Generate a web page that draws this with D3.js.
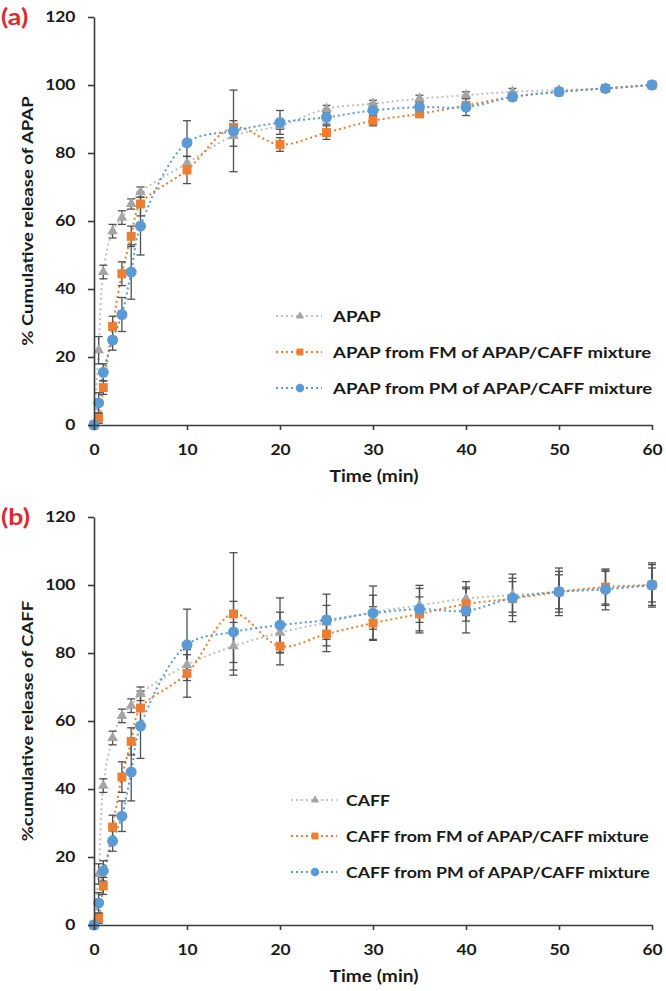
<!DOCTYPE html>
<html><head><meta charset="utf-8">
<script src="https://cdn.jsdelivr.net/npm/d3@7"></script>
<style>body{margin:0;background:#fff;}svg{display:block;}text{font-family:Lato,"Open Sans",sans-serif;font-weight:700;fill:#1a1a1a;}</style>
</head><body><svg id="c" width="666" height="991"></svg>
<script>
const times = [0,0.5,1,2,3,4,5,10,15,20,25,30,35,40,45,50,55,60];
const xTicks = [0,10,20,30,40,50,60];
const yTicks = [0,20,40,60,80,100,120];

const apapPure = [0,22,45,57,61,65,68.5,77,85,88,93,94.5,96,97,98,98.5,99,100];
const apapPureErr = [0,4,2,2,2,1.5,1.5,2,3,1,1,1,1,1,1,0.5,0.5,0.5];
const apapFM = [0,2,11,29,44.5,55.5,65,75,87.5,82.5,86,89.5,91.5,94,96.5,98,99,100];
const apapFMErr = [0,1.5,2,3,3.5,3,3.5,4,2,2,2,1.5,1,1,1,0.5,0.5,0.5];
const apapPM = [0,6.5,15.5,25,32.5,45,58.5,83,86.5,89,90.5,92.5,93.5,93.5,96.5,98,99,100];
const apapPMErr = [0,3,2.5,3,5,8,8.5,6.5,12,3.5,2,2,1.5,2.5,1,0.5,0.5,0.5];

const caffPure = [0,15,41,55,61.5,64.5,68,76.5,82,86,89,92,94,96,97,98,99,100];
const caffPureErr = [0,3,2,2,2,2,2,3,7,6,5,5,5,5,5,5,5,5];
const caffFM = [0,2,11.5,28.8,43.5,54,63.8,74,91.5,82,85.6,88.8,91.5,94.4,96,98,99.4,100];
const caffFMErr = [0,1.5,2.5,3.5,4.5,4,5,7,18,5.5,5.2,4.8,5,5,5,6,5,6];
const caffPM = [0,6.5,15.9,24.7,32,45,58.5,82.4,86.2,88.2,89.7,91.7,92.9,92.4,96.2,98,98.7,100];
const caffPMErr = [0,3,3,3,4.5,8.5,9.5,10.5,9,8,7.6,8,7,6.5,7,7,6,6.5];

const legendA = ["APAP","APAP from FM of APAP/CAFF mixture","APAP from PM of APAP/CAFF mixture"];
const legendB = ["CAFF","CAFF from FM of APAP/CAFF mixture","CAFF from PM of APAP/CAFF mixture"];

const colors = {gray:"#a5a5a5", orange:"#ed7d31", blue:"#5b9bd5"};
const SX = 1.16;
const svg = d3.select("#c");

function label(g, x, y, txt, size, anchor, rot){
  return g.append("text")
    .attr("transform", `translate(${x},${y})${rot?` rotate(${rot})`:""} scale(${SX},1)`)
    .attr("text-anchor", anchor||"start").attr("font-size", size).text(txt);
}

function panel(cfg){
  const g = svg.append("g");
  const x = d3.scaleLinear().domain([0,60]).range([94,652]);
  const y = d3.scaleLinear().domain([0,120]).range([cfg.y0, cfg.y0-408]);
  const series = [
    {v:cfg.s[0], e:cfg.e[0], c:colors.gray, shape:d3.symbolTriangle, size:50, lc:"#c0c0c0"},
    {v:cfg.s[1], e:cfg.e[1], c:colors.orange, shape:d3.symbolSquare, size:80, lc:colors.orange},
    {v:cfg.s[2], e:cfg.e[2], c:colors.blue, shape:d3.symbolCircle, size:95, lc:colors.blue}
  ];
  const line = d3.line().x((d,i)=>x(times[i])).y(d=>y(d)).curve(d3.curveCatmullRom.alpha(0.5));
  series.forEach(s=>{
    g.append("path").attr("d", line(s.v)).attr("fill","none").attr("stroke",s.lc)
      .attr("stroke-width",2).attr("stroke-dasharray","2,3");
  });
  series.forEach(s=>{
    s.v.forEach((v,i)=>{
      const e = s.e[i]; if(!e) return;
      const xx = x(times[i]);
      const eg = g.append("g").attr("stroke","#505050").attr("stroke-width",1.3);
      eg.append("line").attr("x1",xx).attr("x2",xx).attr("y1",y(v-e)).attr("y2",y(v+e));
      eg.append("line").attr("x1",xx-4).attr("x2",xx+4).attr("y1",y(v-e)).attr("y2",y(v-e));
      eg.append("line").attr("x1",xx-4).attr("x2",xx+4).attr("y1",y(v+e)).attr("y2",y(v+e));
    });
  });
  series.forEach(s=>{
    g.selectAll(null).data(s.v).join("path")
      .attr("transform",(d,i)=>`translate(${x(times[i])},${y(d)})`)
      .attr("d", d3.symbol().type(s.shape).size(s.size)).attr("fill",s.c);
  });
  const ya = g.append("g").attr("transform","translate(94,0)")
    .call(d3.axisLeft(y).tickValues(yTicks).tickSize(6).tickPadding(10).tickSizeOuter(0));
  const xa = g.append("g").attr("transform",`translate(0,${cfg.y0})`)
    .call(d3.axisBottom(x).tickValues(xTicks).tickSize(5).tickPadding(14).tickSizeOuter(0));
  [ya,xa].forEach(a=>{
    a.select(".domain").attr("stroke","#3a3a3a").attr("stroke-width",1.6);
    a.selectAll(".tick line").attr("stroke","#3a3a3a").attr("stroke-width",1.6);
    a.selectAll(".tick text").attr("font-size",15).attr("font-family","Lato").attr("font-weight",700)
      .attr("fill","#1a1a1a").attr("transform",`scale(${SX},1)`);
  });
  label(g, 374, cfg.y0+57, "Time (min)", 16.5, "middle");
  label(g, 33, cfg.y0-204, cfg.ytitle, 16, "middle", -90);
  label(g, 1, cfg.y0-400, cfg.label, 23, "start").style("fill","#e3262b");
  cfg.legend.forEach((t,i)=>{
    const ly = cfg.legY[i], s = series[i];
    g.append("line").attr("x1",cfg.legX).attr("x2",cfg.legX+46).attr("y1",ly).attr("y2",ly)
      .attr("stroke",s.lc).attr("stroke-width",2).attr("stroke-dasharray","2,3");
    g.append("path").attr("transform",`translate(${cfg.legX+24},${ly})`).attr("d",d3.symbol().type(s.shape).size(s.size*0.6)).attr("fill",s.c);
    label(g, cfg.legX+cfg.legGap, ly+5.5, t, cfg.legSize, "start");
  });
}

panel({y0:425, s:[apapPure,apapFM,apapPM], e:[apapPureErr,apapFMErr,apapPMErr],
  ytitle:"% Cumulative release of APAP", label:"(a)", legend:legendA, legX:276, legGap:57, legSize:16, legY:[316,352,388]});
panel({y0:925, s:[caffPure,caffFM,caffPM], e:[caffPureErr,caffFMErr,caffPMErr],
  ytitle:"%cumulative release of CAFF", label:"(b)", legend:legendB, legX:291, legGap:55, legSize:15.3, legY:[800,836,872]});
</script></body></html>
